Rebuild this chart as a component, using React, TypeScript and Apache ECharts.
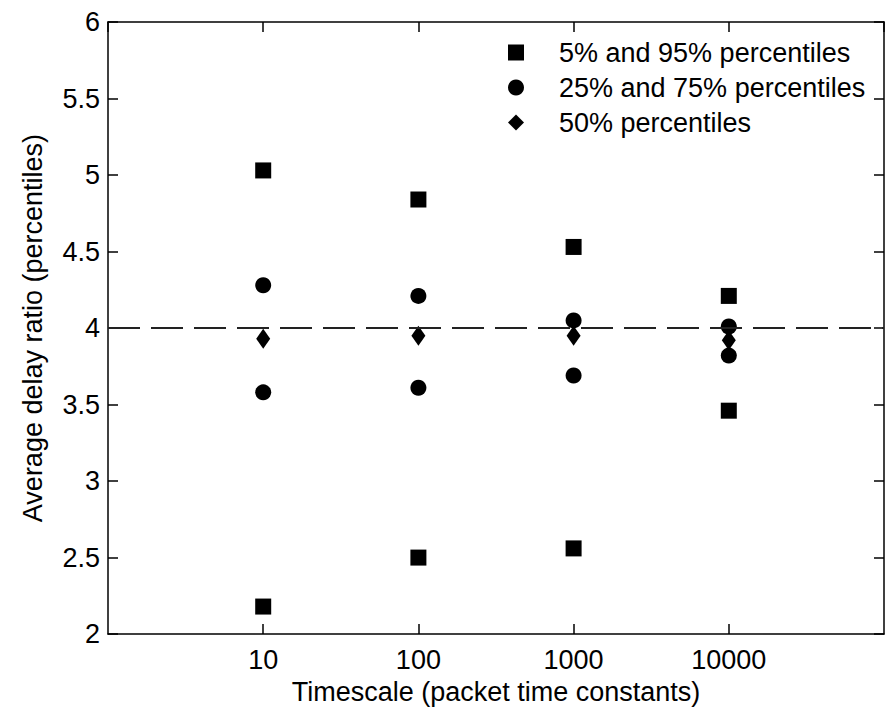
import React, { useEffect, useRef } from "react";
import * as echarts from "echarts";

const timescales = [10, 100, 1000, 10000];
const p5 = [2.18, 2.5, 2.56, 3.46];
const p95 = [5.03, 4.84, 4.53, 4.21];
const p25 = [3.58, 3.61, 3.69, 3.82];
const p75 = [4.28, 4.21, 4.05, 4.01];
const p50 = [3.93, 3.95, 3.95, 3.92];
const referenceLevel = 4;
const seriesNames = [
  "5% and 95% percentiles",
  "25% and 75% percentiles",
  "50% percentiles",
];

const FONT = "Liberation Sans, Arial, sans-serif";

export default function App() {
  const ref = useRef<HTMLDivElement>(null);
  useEffect(() => {
    if (!ref.current) return;
    const chart = echarts.init(ref.current, null, { renderer: "svg" });
    const pairs = (a: number[], b: number[]) =>
      timescales.flatMap((t, i) => [
        [t, a[i]],
        [t, b[i]],
      ]);
    const axisLine = { show: true, lineStyle: { color: "#000", width: 1.5 } };
    const tickStyle = { show: true, inside: true, length: 10, lineStyle: { color: "#000", width: 1.5 } };
    const mark = { color: "#000", opacity: 1 };
    chart.setOption({
      animation: false,
      backgroundColor: "#fff",
      textStyle: { fontFamily: FONT },
      grid: { left: 108, top: 22, right: 1, bottom: 72, containLabel: false },
      legend: {
        orient: "vertical",
        left: 503,
        top: 34,
        itemWidth: 16,
        itemHeight: 16,
        itemGap: 8,
        itemStyle: { opacity: 1 },
        textStyle: { fontSize: 27, color: "#000", fontFamily: FONT, padding: [0, 0, 0, 30] },
        data: [
          { name: seriesNames[0], icon: "rect" },
          { name: seriesNames[1], icon: "circle" },
          { name: seriesNames[2], icon: "diamond" },
        ],
      },
      xAxis: [
        {
          type: "log",
          logBase: 10,
          min: 1,
          max: 100000,
          position: "bottom",
          name: "Timescale (packet time constants)",
          nameLocation: "middle",
          nameGap: 40,
          nameTextStyle: { fontSize: 27, color: "#000", fontFamily: FONT },
          axisLine,
          axisTick: tickStyle,
          splitLine: { show: false },
          axisLabel: {
            fontSize: 27,
            color: "#000",
            fontFamily: FONT,
            margin: 12,
            showMinLabel: false,
            showMaxLabel: false,
            formatter: (v: number) => String(Math.round(v)),
          },
        },
        {
          type: "log",
          logBase: 10,
          min: 1,
          max: 100000,
          position: "top",
          axisLine,
          axisTick: tickStyle,
          axisLabel: { show: false },
          splitLine: { show: false },
        },
      ],
      yAxis: [
        {
          type: "value",
          min: 2,
          max: 6,
          interval: 0.5,
          position: "left",
          name: "Average delay ratio (percentiles)",
          nameLocation: "middle",
          nameGap: 62,
          nameTextStyle: { fontSize: 27, color: "#000", fontFamily: FONT },
          axisLine,
          axisTick: tickStyle,
          splitLine: { show: false },
          axisLabel: { fontSize: 27, color: "#000", fontFamily: FONT, margin: 8 },
        },
        {
          type: "value",
          min: 2,
          max: 6,
          interval: 0.5,
          position: "right",
          axisLine,
          axisTick: tickStyle,
          axisLabel: { show: false },
          splitLine: { show: false },
        },
      ],
      series: [
        {
          name: seriesNames[0],
          type: "scatter",
          symbol: "rect",
          symbolSize: 16,
          itemStyle: mark,
          data: pairs(p5, p95),
          markLine: {
            silent: true,
            symbol: "none",
            label: { show: false },
            lineStyle: { color: "#222", width: 2, type: [32, 11], opacity: 1 },
            data: [{ yAxis: referenceLevel }],
          },
        },
        {
          name: seriesNames[1],
          type: "scatter",
          symbol: "circle",
          symbolSize: 16,
          itemStyle: mark,
          data: pairs(p25, p75),
        },
        {
          name: seriesNames[2],
          type: "scatter",
          symbol: "diamond",
          symbolSize: [14, 20],
          itemStyle: mark,
          data: timescales.map((t, i) => [t, p50[i]]),
        },
      ],
    });
    return () => chart.dispose();
  }, []);
  return <div ref={ref} style={{ width: 885, height: 710, position: "absolute", left: 0, top: 0 }} />;
}
